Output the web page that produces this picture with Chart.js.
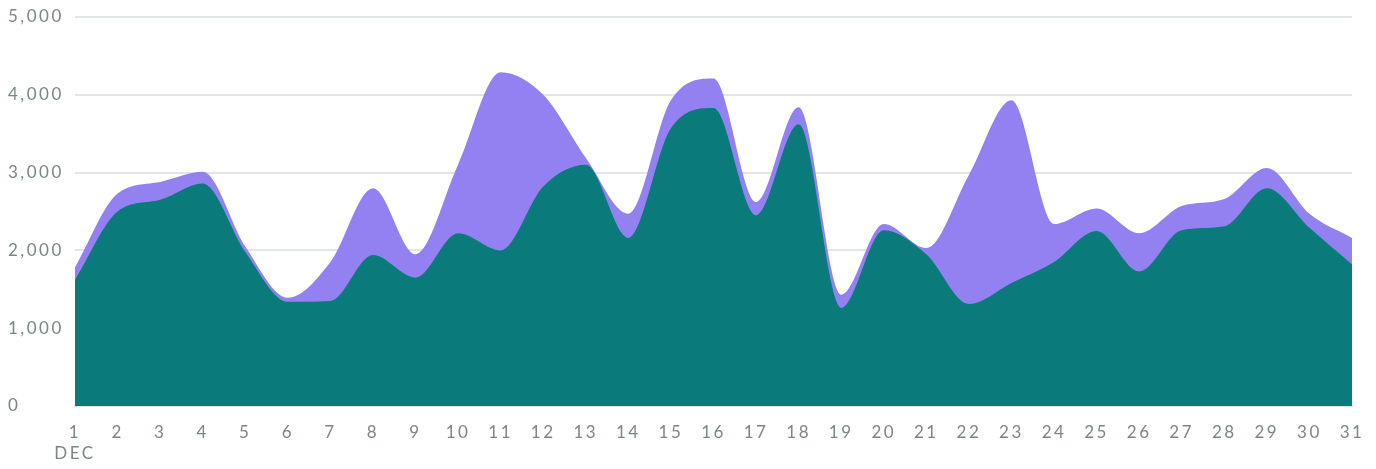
<!DOCTYPE html>
<html lang="en">
<head>
    <meta charset="UTF-8">
    <title>December daily values</title>
    <script src="https://cdn.jsdelivr.net/npm/chart.js"></script>
    <style>
        html, body { margin: 0; padding: 0; background: #fff; overflow: hidden; }
        canvas { display: block; }
    </style>
</head>
<body>
    <canvas id="areaChart" width="1376" height="469"></canvas>

    <script>
        // days of December
        const days = ['1','2','3','4','5','6','7','8','9','10','11','12','13','14','15','16',
                      '17','18','19','20','21','22','23','24','25','26','27','28','29','30','31'];

        // purple (back) series
        const totalValues = [1780, 2730, 2880, 3010, 2050, 1390, 1850, 2800, 1950, 3100, 4290,
                             4000, 3190, 2470, 3930, 4210, 2620, 3840, 1430, 2340, 2030, 2970,
                             3930, 2340, 2540, 2220, 2570, 2660, 3060, 2470, 2160];

        // teal (front) series
        const partValues = [1620, 2500, 2650, 2860, 1980, 1340, 1350, 1940, 1650, 2220, 2000,
                            2820, 3100, 2160, 3570, 3830, 2450, 3620, 1260, 2260, 1950, 1310,
                            1580, 1850, 2250, 1730, 2260, 2310, 2800, 2290, 1820];

        const yTicks = [0, 1000, 2000, 3000, 4000, 5000];

        const labels = days.map((d, i) => i === 0 ? [d, 'DEC'] : d);

        // wide tracking on all text, like the original
        const spacing = {
            id: 'spacing',
            beforeUpdate: (chart) => { chart.ctx.letterSpacing = '2.5px'; },
            beforeDraw: (chart) => { chart.ctx.letterSpacing = '2.5px'; }
        };

        const ctx = document.getElementById('areaChart').getContext('2d');

        const areaChart = new Chart(ctx, {
            type: 'line',
            plugins: [spacing],
            data: {
                labels: labels,
                datasets: [
                    {
                        label: 'Part',
                        data: partValues,
                        backgroundColor: '#0a7b7a',
                        borderWidth: 0,
                        fill: 'origin',
                        order: 1
                    },
                    {
                        label: 'Total',
                        data: totalValues,
                        backgroundColor: '#9381f2',
                        borderWidth: 0,
                        fill: 'origin',
                        order: 2
                    }
                ]
            },
            options: {
                responsive: false,
                animation: false,
                devicePixelRatio: 1,
                layout: { padding: { top: 17, right: 24, left: 8, bottom: 6 } },
                elements: {
                    point: { radius: 0 },
                    line: { cubicInterpolationMode: 'monotone' }
                },
                plugins: {
                    legend: { display: false },
                    tooltip: { enabled: false }
                },
                scales: {
                    x: {
                        offset: false,
                        afterFit: (scale) => {
                            scale.height = 57;
                            scale.paddingLeft = 0;
                            scale.paddingRight = 0;
                        },
                        grid: { display: false, drawTicks: false },
                        border: { display: true, color: '#e3e6e6', width: 2 },
                        ticks: {
                            autoSkip: false,
                            maxRotation: 0,
                            padding: 16,
                            color: '#7b8785',
                            font: { family: 'Lato', size: 17, lineHeight: 1.24 }
                        }
                    },
                    y: {
                        min: 0,
                        max: 5000,
                        afterFit: (scale) => { scale.width = 67; },
                        afterBuildTicks: (scale) => { scale.ticks = yTicks.map(v => ({ value: v })); },
                        grid: { color: '#e3e6e6', lineWidth: 2, drawTicks: false },
                        border: { display: false },
                        ticks: {
                            crossAlign: 'far',
                            padding: 0,
                            color: '#7b8785',
                            font: { family: 'Lato', size: 17 },
                            callback: (v) => v.toLocaleString('en-US')
                        }
                    }
                }
            }
        });
    </script>
</body>
</html>
